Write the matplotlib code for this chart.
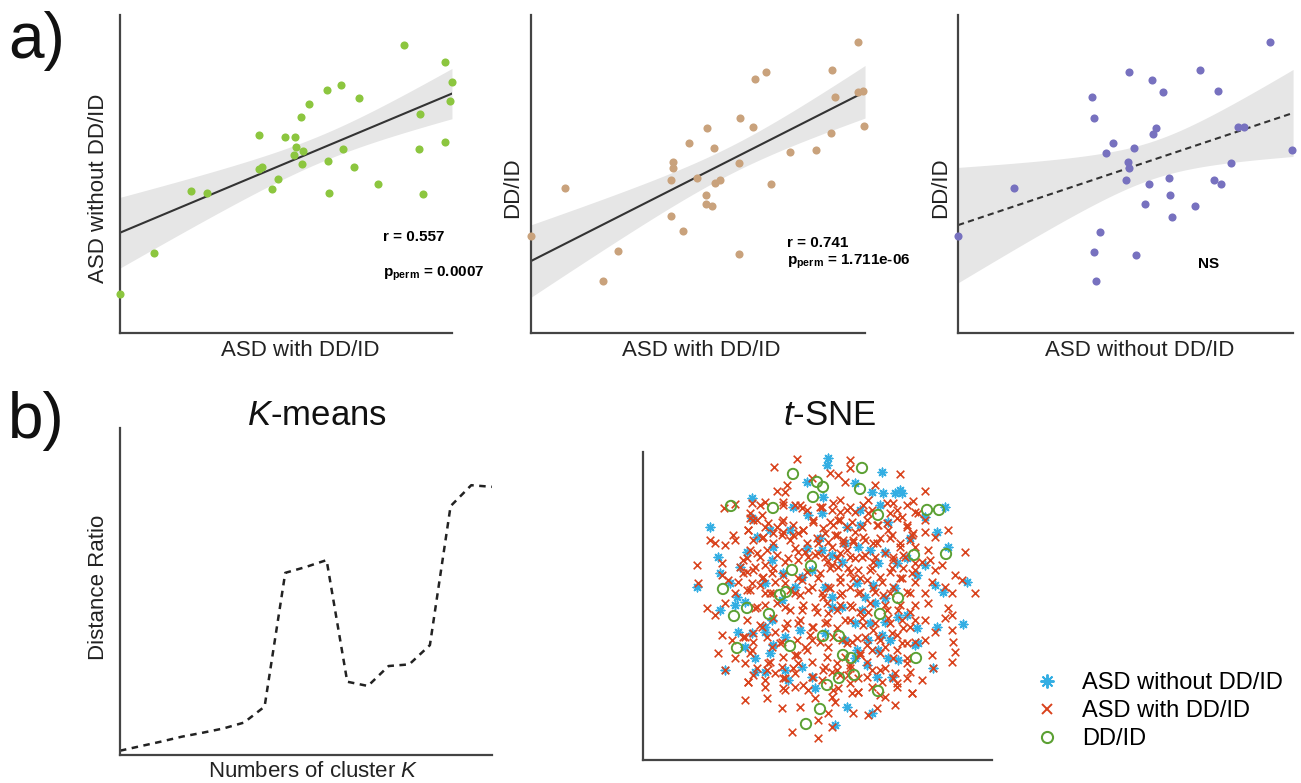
import numpy as np
import matplotlib
matplotlib.use('Agg')
import matplotlib.pyplot as plt
from matplotlib.lines import Line2D

plt.rcParams['font.family'] = ['Liberation Sans', 'DejaVu Sans']
plt.rcParams['mathtext.fontset'] = 'custom'
plt.rcParams['mathtext.rm'] = 'Liberation Sans'
plt.rcParams['mathtext.it'] = 'Liberation Sans:italic'
plt.rcParams['mathtext.bf'] = 'Liberation Sans:bold'

# ---- panel a: pairwise correlations (arbitrary 0-100 units) ----
a1_x = [85.5, 98.0, 100.0, 99.5, 90.3, 98.0, 90.0, 91.2, 77.7, 70.6, 67.1, 66.6, 62.4, 71.9,
        57.0, 54.5, 62.7, 62.9, 55.2, 54.9, 52.6, 49.8, 52.9, 52.4, 41.8, 41.8, 42.8, 47.5,
        45.8, 21.5, 26.1, 10.2, 0.0]
a1_y = [90.6, 85.3, 79.0, 73.0, 68.8, 60.2, 57.9, 43.7, 46.9, 52.3, 57.8, 77.9, 76.3, 73.9,
        72.1, 67.8, 54.0, 44.1, 57.2, 53.3, 61.8, 61.5, 58.6, 56.1, 62.4, 51.7, 52.3, 48.4,
        45.4, 44.6, 44.1, 25.3, 12.2]

a2_x = [98.0, 90.0, 98.0, 99.5, 91.0, 99.8, 89.8, 85.2, 77.6, 71.8, 70.3, 67.1, 62.6, 66.6,
        62.2, 62.4, 56.6, 55.1, 54.7, 52.8, 47.4, 42.5, 42.4, 41.8, 49.7, 52.4, 52.4, 54.1,
        41.8, 45.6, 25.9, 21.4, 10.1, 0.0]
a2_y = [91.5, 82.7, 75.9, 76.2, 74.1, 65.1, 62.8, 57.7, 56.8, 46.9, 82.2, 79.8, 67.7, 64.9,
        53.6, 24.7, 48.2, 47.1, 58.3, 64.6, 59.9, 53.9, 52.0, 48.2, 48.6, 43.4, 40.6, 40.1,
        36.7, 32.1, 25.8, 16.5, 45.7, 30.6]

a3_x = [93.0, 72.1, 77.6, 50.9, 58.0, 61.2, 40.0, 40.5, 59.0, 58.2, 46.3, 44.3, 52.4, 50.7,
        51.0, 50.2, 57.0, 62.9, 63.4, 55.7, 64.0, 70.6, 76.3, 78.6, 81.6, 83.6, 85.3, 99.8,
        16.6, 42.3, 40.6, 53.2, 41.1, 0.0]
a3_y = [91.5, 82.8, 76.0, 82.2, 79.6, 75.9, 74.1, 67.6, 64.5, 62.6, 59.8, 56.7, 58.2, 53.8,
        51.9, 48.0, 47.0, 48.7, 43.3, 40.5, 36.5, 39.9, 48.0, 46.8, 53.5, 64.9, 64.9, 57.6,
        45.6, 31.9, 25.6, 24.5, 16.4, 30.5]

# ---- panel b: K-means distance ratio ----
k_values = list(range(2, 21))
dist_ratio = [1.3, 2.7, 4.1, 5.6, 6.8, 8.1, 9.9, 14.8, 55.7, 57.5, 59.6, 22.4, 21.1, 27.2,
              27.7, 33.6, 76.1, 82.5, 82.0]

# ---- panel b: t-SNE embedding ----
tsne_with = np.array([
    # outer ring / quadrants
    (-56, 133), (-33, 141), (0, 127), (-18, 122), (-53, 109), (-45, 108), (-43, 115), (-65, 98),
    (-95, 96), (-106, 92), (-80, 87), (-68, 85), (-47, 95), (-35, 95), (-28, 92), (-8, 93),
    (2, 90), (-17, 80), (0, 78), (-48, 78), (-65, 73), (-77, 80), (-82, 70), (-97, 65),
    (-95, 60), (-105, 55), (-120, 60), (-115, 57), (-68, 62), (-57, 67), (-47, 68), (-37, 65),
    (-27, 70), (-35, 52), (-25, 48), (-12, 57), (-5, 67), (2, 53), (-80, 50), (-70, 43),
    (-87, 40), (-90, 33), (-83, 28), (-75, 33), (-65, 35), (-58, 27), (-45, 38), (-32, 40),
    (-15, 45), (-5, 43), (2, 35), (-133, 35), (-132, 17), (-108, 37), (-102, 20), (-92, 18),
    (-95, 7), (-78, 17), (-68, 22), (-55, 18), (-45, 17), (-28, 20), (-12, 22), (-2, 13),
    (-65, 7), (-35, 7), (-22, 10), (-7, 3), (-108, 25), (-83, 10), (-57, 7),
    (20, 140), (20, 132), (8, 125), (15, 118), (70, 126), (45, 115), (95, 109), (38, 100),
    (63, 97), (83, 99), (10, 100), (17, 90), (25, 88), (38, 87), (60, 87), (72, 83),
    (88, 87), (95, 80), (118, 70), (8, 80), (22, 78), (32, 73), (48, 75), (58, 70),
    (77, 75), (82, 65), (95, 68), (105, 63), (5, 65), (13, 60), (23, 58), (35, 60),
    (47, 57), (60, 62), (70, 53), (85, 53), (98, 50), (135, 48), (10, 47), (20, 43),
    (32, 43), (45, 43), (63, 43), (75, 43), (92, 38), (100, 40), (112, 35), (8, 33),
    (18, 32), (28, 30), (42, 32), (62, 32), (73, 32), (85, 30), (105, 30), (125, 25),
    (132, 20), (10, 18), (23, 22), (37, 20), (52, 18), (72, 22), (85, 18), (102, 18),
    (115, 13), (145, 7), (12, 7), (28, 7), (45, 8), (60, 7), (80, 7), (95, 7), (122, 7),
    (-123, -8), (-115, -15), (-105, -3), (-75, -8), (-65, -5), (-45, -7), (-28, -10),
    (-15, -7), (-2, -13), (-108, -35), (-98, -40), (-85, -37), (-77, -33), (-68, -27),
    (-55, -32), (-45, -28), (-32, -23), (-18, -27), (-5, -23), (-112, -53), (-95, -58),
    (-78, -50), (-58, -47), (-48, -42), (-35, -55), (-25, -47), (-18, -40), (-2, -47),
    (-85, -63), (-73, -68), (-62, -63), (-48, -67), (-32, -63), (-18, -62), (-5, -67),
    (-82, -82), (-65, -80), (-45, -78), (-35, -87), (-18, -77), (-8, -80), (2, -72),
    (-85, -100), (-63, -98), (-47, -88), (-48, -108), (-30, -107), (-15, -98), (-2, -113),
    (-12, -120), (-38, -132), (-12, -138), (-105, -70), (-55, -73), (2, -97), (2, -127),
    (-35, -73), (-22, -90),
    (10, -5), (22, -7), (38, -12), (55, -5), (68, -10), (85, -5), (98, -3), (118, -8),
    (122, -15), (115, -18), (15, -20), (32, -18), (45, -23), (58, -18), (72, -20), (80, -27),
    (95, -20), (105, -32), (122, -30), (123, -42), (125, -52), (122, -62), (12, -40),
    (22, -42), (35, -37), (48, -37), (62, -33), (72, -43), (85, -42), (95, -40), (102, -55),
    (103, -68), (15, -57), (30, -53), (42, -50), (55, -47), (67, -50), (77, -58), (7, -70),
    (18, -75), (28, -78), (42, -70), (55, -68), (65, -73), (77, -78), (92, -80), (8, -88),
    (22, -93), (42, -87), (52, -82), (67, -83), (82, -93), (55, -97), (65, -105), (47, -108),
    (38, -115), (23, -113), (5, -102), (28, -92), (20, -65),
    # dense core, upper half
    (-78, 97), (-70, 95), (-47, 98), (-30, 95), (-23, 90), (-10, 93), (3, 97), (10, 88),
    (20, 93), (33, 95), (42, 90), (57, 97), (67, 90), (77, 95), (85, 88), (-80, 82),
    (-73, 80), (-82, 70), (-62, 77), (-53, 73), (-47, 80), (-37, 75), (-27, 70), (-17, 78),
    (-7, 72), (3, 75), (10, 80), (17, 73), (25, 68), (37, 80), (47, 75), (57, 77),
    (67, 82), (77, 73), (83, 67), (-77, 60), (-67, 63), (-57, 57), (-48, 65), (-40, 60),
    (-32, 67), (-23, 57), (-13, 62), (-2, 58), (7, 65), (13, 57), (23, 60), (33, 63),
    (43, 57), (50, 62), (62, 65), (70, 57), (80, 60), (-83, 42), (-73, 47), (-63, 50),
    (-53, 45), (-42, 42), (-32, 48), (-22, 43), (-12, 47), (-3, 38), (7, 42), (17, 50),
    (25, 42), (35, 45), (43, 38), (55, 47), (63, 40), (73, 45), (85, 37), (-87, 27),
    (-77, 30), (-67, 23), (-57, 32), (-47, 25), (-32, 22), (-23, 28), (-10, 27), (0, 32),
    (10, 23), (20, 28), (30, 22), (40, 30), (50, 23), (60, 28), (70, 22), (82, 27),
    (-80, 10), (-70, 15), (-60, 7), (-40, 10), (-30, 5), (-18, 13), (-8, 7), (0, 12),
    (10, 5), (20, 13), (30, 8), (43, 12), (53, 5), (63, 13), (77, 8),
    # dense core, lower half
    (-73, -7), (-53, -3), (-40, -10), (-27, -5), (-13, -12), (-3, -3), (7, -10), (20, -5),
    (30, -12), (40, -3), (57, -10), (70, -5), (80, -12), (-83, -20), (-70, -25), (-57, -18),
    (-43, -23), (-30, -20), (-17, -27), (-3, -22), (7, -28), (20, -20), (33, -25), (43, -30),
    (60, -23), (73, -28), (85, -20), (-87, -37), (-77, -42), (-63, -37), (-50, -43),
    (-33, -40), (-20, -35), (-10, -42), (3, -37), (17, -43), (27, -38), (37, -45), (50, -40),
    (67, -35), (77, -43), (-80, -53), (-60, -62), (-47, -57), (-33, -55), (-23, -50),
    (-3, -57), (7, -63), (30, -55), (37, -62), (50, -53), (63, -58), (77, -63), (-77, -75),
    (-63, -70), (-47, -78), (-37, -68), (-17, -77), (-7, -70), (10, -75), (20, -68),
    (37, -77), (50, -70), (63, -78), (80, -72), (-82, -82), (-65, -87), (-45, -90),
    (-27, -85), (3, -90), (20, -83), (28, -92), (50, -95), (67, -87), (82, -93),
])
tsne_without = np.array([
    (-2, 142), (-3, 135), (-23, 118), (-7, 103), (-78, 102), (-37, 93), (-22, 85), (-8, 87),
    (-78, 82), (-120, 73), (-60, 70), (-40, 70), (-10, 62), (-73, 63), (-112, 43), (-83, 48),
    (-57, 53), (-23, 52), (-8, 50), (2, 45), (-58, 40), (-90, 33), (-47, 27), (-28, 23),
    (-18, 30), (-110, 27), (-100, 17), (-133, 13), (-65, 17), (-35, 13), (-5, 13), (-93, 3),
    (2, 3),
    (25, 117), (52, 128), (42, 108), (53, 107), (65, 107), (72, 107), (70, 110), (30, 90),
    (50, 95), (95, 83), (115, 93), (17, 73), (30, 75), (58, 78), (80, 62), (107, 68),
    (118, 53), (15, 57), (28, 53), (40, 50), (55, 48), (77, 42), (95, 35), (12, 38),
    (48, 37), (67, 37), (87, 25), (137, 18), (27, 17), (43, 15), (65, 12), (105, 15),
    (113, 8), (35, 3), (55, 2),
    (-110, -10), (-95, -5), (-65, -27), (-65, -32), (-92, -32), (-78, -33), (-57, -45),
    (-45, -37), (-30, -30), (-5, -33), (-85, -47), (-75, -58), (-65, -72), (-75, -72),
    (-45, -70), (-18, -77), (-28, -67), (-105, -70), (-60, -53), (-42, -80), (-15, -88),
    (-48, 0), (-85, -2), (-58, -20), (2, -7),
    (12, -7), (32, -10), (45, -3), (25, -23), (40, -23), (55, -22), (68, -17), (77, -15),
    (87, -28), (107, -27), (133, -24), (15, -40), (38, -40), (52, -35), (60, -40), (88, -43),
    (27, -50), (48, -50), (58, -58), (68, -60), (85, -45), (37, -65), (47, -77), (62, -77),
    (103, -68), (17, -107), (42, -113), (5, -125), (25, -58),
])
tsne_ddid = np.array([
    (-37, 126), (32, 132), (-13, 118), (-7, 113), (30, 111), (-17, 103), (-99, 94), (-57, 92),
    (48, 85), (97, 90), (109, 90), (84, 45), (116, 46), (-38, 30), (-19, 34), (-107, 11),
    (-50, 5), (-44, 8), (68, 2), (-83, -8), (-96, -16), (-61, -14), (50, -14), (-7, -36),
    (9, -36), (-93, -48), (-40, -46), (13, -55), (21, -58), (86, -58), (9, -78), (24, -75),
    (-3, -85), (48, -91), (-10, -109), (-24, -124),
])

SPINE = '#444444'


def clean_axes(ax):
    for side in ['top', 'right']:
        ax.spines[side].set_visible(False)
    for side in ['left', 'bottom']:
        ax.spines[side].set_color(SPINE)
        ax.spines[side].set_linewidth(1.6)
    ax.set_xticks([])
    ax.set_yticks([])


def fit_band(x, y, xs):
    x = np.asarray(x)
    y = np.asarray(y)
    n = len(x)
    slope, icpt = np.polyfit(x, y, 1)
    resid = y - (icpt + slope * x)
    s = np.sqrt(np.sum(resid ** 2) / (n - 2))
    sxx = np.sum((x - x.mean()) ** 2)
    half = 2.03 * s * np.sqrt(1.0 / n + (xs - x.mean()) ** 2 / sxx)
    fit = icpt + slope * xs
    return fit, fit - half, fit + half


def corr_panel(rect, x, y, color, xlabel, ylabel, ylab_x, dashed=False):
    ax = fig.add_axes(rect)
    xs = np.linspace(0, 100, 200)
    fit, lo, hi = fit_band(x, y, xs)
    ax.fill_between(xs, lo, hi, color='#e6e6e6', lw=0, zorder=1)
    ls = (0, (3, 2)) if dashed else '-'
    ax.plot(xs, fit, color='#333333', lw=1.5, ls=ls, zorder=2)
    ax.scatter(x, y, s=34, color=color, lw=0, zorder=3, clip_on=False)
    ax.set_xlim(0, 100)
    ax.set_ylim(0, 100)
    clean_axes(ax)
    ax.set_xlabel(xlabel, fontsize=16, color='#222222')
    ax.set_ylabel(ylabel, fontsize=16, color='#222222')
    ax.xaxis.set_label_coords(0.542, -0.022)
    ax.yaxis.set_label_coords(ylab_x, 0.456)
    return ax


fig = plt.figure(figsize=(13.01, 7.83), dpi=100)

ax1 = corr_panel([0.0922, 0.5747, 0.2552, 0.4061], a1_x, a1_y, '#8cc63f',
                 'ASD with DD/ID', 'ASD without DD/ID', -0.033)
ax1.text(0.792, 0.289, 'r = 0.557', transform=ax1.transAxes, fontsize=11, fontweight='bold')
ax1.text(0.792, 0.176, r'$\mathbf{p}_{\mathbf{perm}}$ = 0.0007', transform=ax1.transAxes,
         fontsize=11, fontweight='bold')

ax2 = corr_panel([0.4082, 0.5747, 0.2567, 0.4061], a2_x, a2_y, '#c9a27c',
                 'ASD with DD/ID', 'DD/ID', -0.024)
ax2.xaxis.set_label_coords(0.51, -0.022)
ax2.text(0.766, 0.270, 'r = 0.741', transform=ax2.transAxes, fontsize=11, fontweight='bold')
ax2.text(0.766, 0.214, r'$\mathbf{p}_{\mathbf{perm}}$ = 1.711e-06', transform=ax2.transAxes,
         fontsize=11, fontweight='bold')

ax3 = corr_panel([0.7364, 0.5747, 0.2575, 0.4061], a3_x, a3_y, '#7771bf',
                 'ASD without DD/ID', 'DD/ID', -0.021, dashed=True)
ax3.text(0.716, 0.204, 'NS', transform=ax3.transAxes, fontsize=11, fontweight='bold')

fig.text(0.006, 1 - 58 / 783, 'a)', fontsize=46, va='baseline', color='#111111')
fig.text(0.006, 1 - 438 / 783, 'b)', fontsize=46, va='baseline', color='#111111')

# K-means
ax4 = fig.add_axes([0.0922, 0.0358, 0.2859, 0.4176])
ax4.plot(k_values, dist_ratio, color='#222222', lw=1.8, ls=(0, (2.6, 2.2)), clip_on=False)
ax4.set_xlim(2, 20)
ax4.set_ylim(0, 100)
clean_axes(ax4)
ax4.set_xlabel(r'Numbers of cluster $\mathit{K}$', fontsize=16, color='#222222')
ax4.set_ylabel('Distance Ratio', fontsize=16, color='#222222')
ax4.xaxis.set_label_coords(0.519, -0.018)
ax4.yaxis.set_label_coords(-0.03, 0.514)
fig.text(317 / 1301, 1 - 425 / 783, r'$\mathit{K}$-means', fontsize=25, ha='center',
         va='baseline', color='#111111')

# t-SNE
ax5 = fig.add_axes([0.4942, 0.0294, 0.2683, 0.3934])
c_with, c_without, c_dd = '#d9421c', '#33aee3', '#5ba033'
ax5.scatter(tsne_without[:, 0], tsne_without[:, 1], marker=(8, 2, 0), s=38, color=c_without,
            lw=1.1, zorder=2)
ax5.scatter(tsne_with[:, 0], tsne_with[:, 1], marker='x', s=30, color=c_with, lw=1.2, zorder=3)
ax5.scatter(tsne_ddid[:, 0], tsne_ddid[:, 1], marker='o', s=55, facecolors='none',
            edgecolors=c_dd, lw=1.4, zorder=4)
ax5.set_xlim(-187, 162)
ax5.set_ylim(-160, 148)
clean_axes(ax5)
fig.text(830 / 1301, 1 - 425 / 783, r'$\mathit{t}$-SNE', fontsize=25, ha='center',
         va='baseline', color='#111111')

handles = [
    Line2D([], [], ls='none', marker=(8, 2, 0), markersize=10, color=c_without, mew=1.4),
    Line2D([], [], ls='none', marker='x', markersize=7, color=c_with, mew=1.4),
    Line2D([], [], ls='none', marker='o', markersize=8, mfc='none', mec=c_dd, mew=1.5),
]
fig.legend(handles, ['ASD without DD/ID', 'ASD with DD/ID', 'DD/ID'],
           loc='upper left', bbox_to_anchor=(1035 / 1301, 1 - 672 / 783),
           frameon=False, fontsize=17, borderpad=0, borderaxespad=0,
           handlelength=1.0, handletextpad=1.0, labelspacing=0.25)

fig.savefig('out.png', dpi=100)
